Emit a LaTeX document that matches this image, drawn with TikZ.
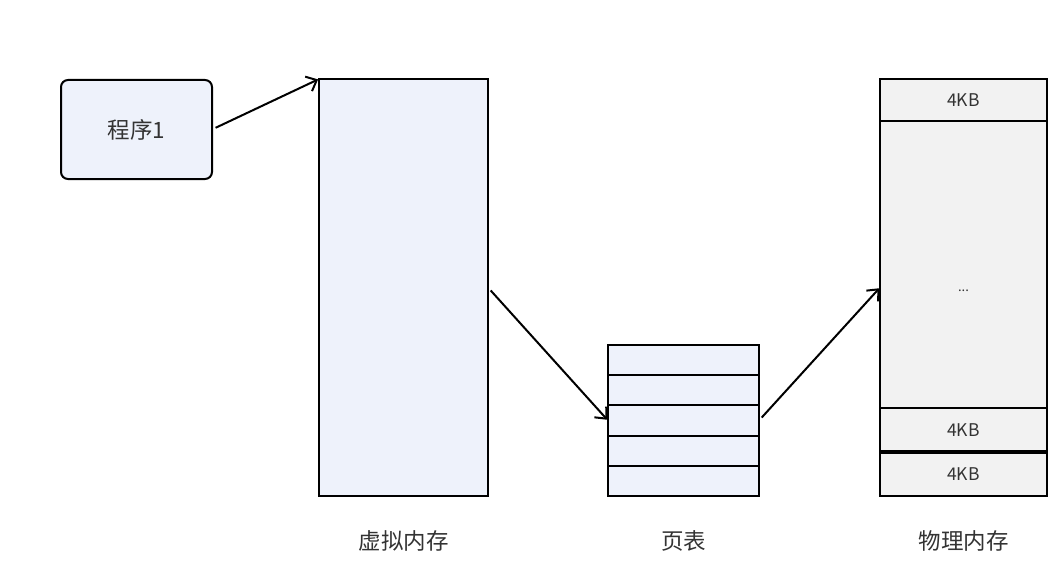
\documentclass[tikz,border=0pt]{standalone}
\usepackage{fontspec}
\setmainfont{Noto Sans CJK SC}
\usepackage{tikz}
\usetikzlibrary{arrows,arrows.meta}

\definecolor{boxblue}{HTML}{EEF2FB}
\definecolor{boxgray}{HTML}{F2F2F2}
\definecolor{txtgray}{HTML}{333333}

\tikzset{
  cell/.style={draw,line width=2pt,inner sep=0pt,outer sep=0pt,text=txtgray},
  lbl/.style={text=txtgray,font=\fontsize{22.5}{26}\selectfont}
}

\begin{document}
\begin{tikzpicture}[x=1pt,y=-1pt]

\useasboundingbox (0,0) rectangle (1049,583);

\node[cell,fill=boxblue,rounded corners=7pt,minimum width=151pt,minimum height=99pt,
  font=\fontsize{22.5}{26}\selectfont] (prog) at (136.5,129.5) {程序1};
\node[cell,fill=boxblue,minimum width=169pt,minimum height=417pt] (vmem) at (403.5,287.5) {};

% page table
\foreach \i in {1,...,5}
  \node[cell,fill=boxblue,minimum width=151pt,minimum height=30.2pt] (pt\i) at (683.5,{329.9+30.2*\i}) {};

% physical memory
\node[cell,fill=boxgray,minimum width=167pt,minimum height=42pt,font=\fontsize{17.5}{20}\selectfont] (pm1) at (963.5,100) {4KB};
\node[cell,fill=boxgray,minimum width=167pt,minimum height=287pt] (pmdots) at (963.5,264.5) {};
\node[text=txtgray,font=\fontsize{13}{15}\selectfont] (dots) at (963.5,291) {...};
\node[cell,fill=boxgray,minimum width=167pt,minimum height=44pt,font=\fontsize{17.5}{20}\selectfont] (pm2) at (963.5,430) {4KB};
\node[cell,fill=boxgray,minimum width=167pt,minimum height=44pt,font=\fontsize{17.5}{20}\selectfont] (pm3) at (963.5,474) {4KB};
\draw[line width=4pt] (pm3.north west) -- (pm3.north east);

\node[lbl] (vlbl) at (403.5,541) {虚拟内存};
\node[lbl] (ptlbl) at (683.5,541) {页表};
\node[lbl] (pmlbl) at (963.5,541) {物理内存};

\path[-{Straight Barb[length=9pt,width=16pt]},line width=2pt,shorten <=4pt,shorten >=1pt]
  (prog.east) edge (vmem.north west)
  (vmem.east) edge (pt3.west)
  (pt3.east) edge (pmdots.west |- vmem.east);

\end{tikzpicture}
\end{document}
